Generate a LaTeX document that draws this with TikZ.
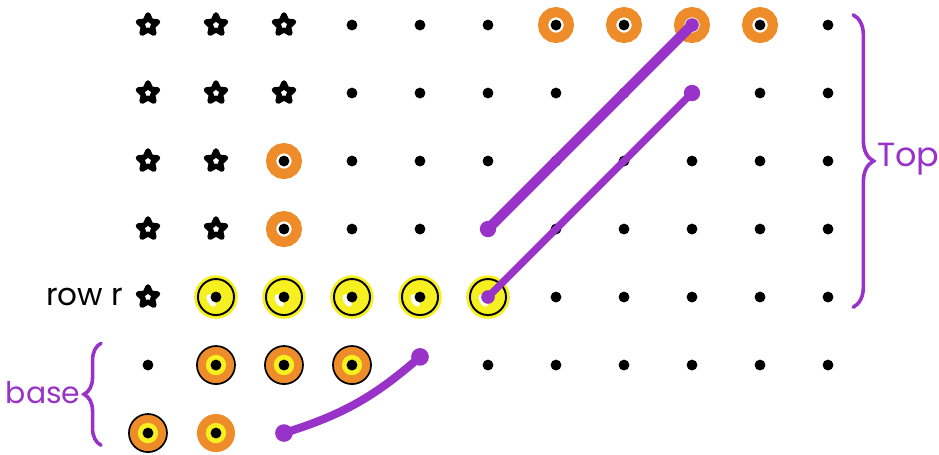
\documentclass[tikz,border=0pt]{standalone}
\usepackage{fontspec}
\newfontfamily\handfont{Poppins}
\usepackage{tikz}
\usetikzlibrary{shapes.geometric, decorations.pathreplacing}
\usepackage{xcolor}
\definecolor{mypurple}{RGB}{152,50,200}
\definecolor{myorange}{RGB}{238,140,42}
\definecolor{myyellow}{RGB}{246,240,32}

\tikzset{
  gdot/.style={circle, fill=black, inner sep=0pt, minimum size=0.16cm},
  starmark/.style={star, star points=5, star point ratio=2.1, draw, line width=2.2pt,
    line join=round, inner sep=0pt, minimum size=0.3cm},
  ringmark/.style={circle, draw=myorange, line width=0.15cm, inner sep=0pt, minimum size=0.38cm},
  purpleline/.style={mypurple, line cap=round},
  bracemark/.style={mypurple, line width=1.5pt, line cap=round, decorate},
}

\begin{document}
\begin{tikzpicture}
    \useasboundingbox (-2.176,0.368) rectangle (11.632,-6.309);

    % 星号
    \foreach \r/\c in {0/0,0/1,0/2,1/0,1/1,1/2,2/0,2/1,3/0,3/1,4/0}
        \node[starmark] (p-\r-\c) at (\c,-\r) {};

    % 点
    \foreach \r/\c in {0/3,0/4,0/5,0/10,
                       1/3,1/4,1/5,1/6,1/7,1/9,1/10,
                       2/3,2/4,2/5,2/6,2/7,2/8,2/9,2/10,
                       3/3,3/4,3/6,3/7,3/8,3/9,3/10,
                       4/6,4/7,4/8,4/9,4/10,
                       5/0,5/5,5/6,5/7,5/8,5/9,5/10}
        \node[gdot] (p-\r-\c) at (\c,-\r) {};

    % 橙色圈
    \foreach \r/\c in {0/6,0/7,0/8,0/9,2/2,3/2} {
        \node[ringmark] at (\c,-\r) {};
        \node[gdot] (p-\r-\c) at (\c,-\r) {};
    }

    % row r
    \foreach \c in {1,...,5} {
        \fill[myyellow] (\c,-4) circle (0.32);
        \draw[black, line width=0.8pt] (\c,-4) circle (0.265);
        \fill[white, rotate around={30:(\c-0.07,-4.05)}] (\c-0.07,-4.05) ellipse (0.055 and 0.1);
        \node[gdot] (p-4-\c) at (\c,-4) {};
    }
    \node[font=\handfont\fontsize{13}{15}\selectfont] (rowlbl) at (-0.93,-4) {row r};

    % base
    \foreach \r/\c in {5/1,5/2,5/3,6/0} {
        \draw[black, line width=0.7pt, fill=myorange] (\c,-\r) circle (0.28);
        \fill[myyellow] (\c,-\r) circle (0.15);
        \node[gdot] (p-\r-\c) at (\c,-\r) {};
    }
    \fill[myorange] (1,-6) circle (0.28);
    \fill[myyellow] (1,-6) circle (0.15);
    \node[gdot] (p-6-1) at (1,-6) {};

    % 紫线
    \coordinate (p-3-5) at (5,-3);
    \coordinate (p-1-8) at (8,-1);
    \coordinate (p-5-4) at (4,-4.88);
    \coordinate (p-6-2) at (2,-6);
    \draw[purpleline, line width=4.2pt] (p-3-5) -- (p-0-8.center);
    \fill[mypurple] (p-3-5) circle (0.12);
    \fill[mypurple] (p-0-8) circle (0.1);
    \draw[purpleline, line width=3pt] (p-4-5.center) -- (p-1-8);
    \fill[mypurple] (p-4-5) circle (0.1);
    \fill[mypurple] (p-1-8) circle (0.12);
    \draw[purpleline, line width=3.4pt] (p-6-2) to[bend right=12] (p-5-4);
    \fill[mypurple] (p-6-2) circle (0.13);
    \fill[mypurple] (p-5-4) circle (0.13);

    % 括号
    \coordinate (topa) at (10.37,0.15);
    \coordinate (topb) at (10.37,-4.15);
    \draw[bracemark, decoration={brace, amplitude=0.3cm}] (topa) -- (topb);
    \node[mypurple, font=\handfont\fontsize{14}{16}\selectfont, anchor=west, inner sep=0pt]
        (toplbl) at (10.72,-1.98) {Top};

    \coordinate (basea) at (-0.69,-6.18);
    \coordinate (baseb) at (-0.69,-4.68);
    \draw[bracemark, decoration={brace, amplitude=0.25cm}] (basea) -- (baseb);
    \node[mypurple, font=\handfont\fontsize{12.5}{15}\selectfont] (baselbl) at (-1.54,-5.41) {base};
\end{tikzpicture}
\end{document}
